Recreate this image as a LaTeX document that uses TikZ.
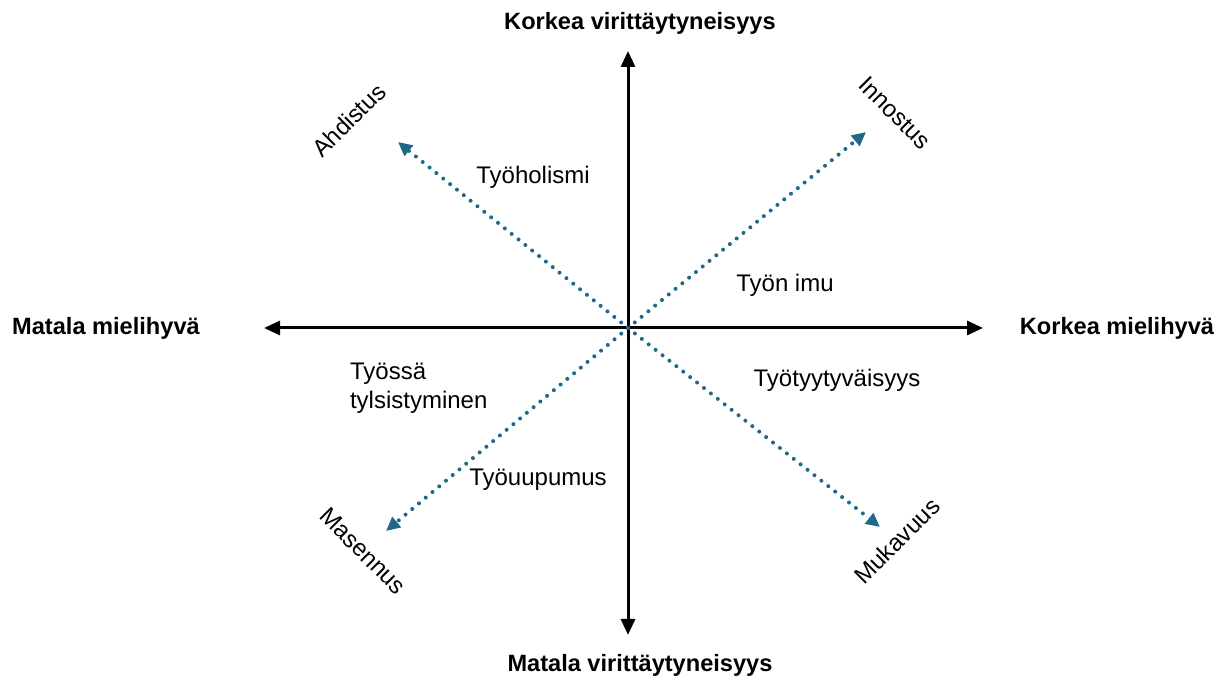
\documentclass[tikz,border=0pt]{standalone}
\usepackage{fontspec}
\setmainfont{Liberation Sans}
\usetikzlibrary{positioning,calc,arrows.meta}
\definecolor{dotblue}{RGB}{31,104,138}

\begin{document}
\begin{tikzpicture}[x=0.5pt,y=-0.5pt,
	axis/.style={line width=1.5pt,-{Triangle[length=8pt,width=7pt]}},
	trend/.style={dotblue,line width=2pt,line cap=round,dash pattern=on 0pt off 4.4pt,
		-{Triangle[length=7pt,width=6.5pt]}},
	axislabel/.style={font=\bfseries\fontsize{11.8}{14}\selectfont},
	mood/.style={font=\fontsize{12}{14}\selectfont},
	zone/.style={font=\fontsize{12}{14.5}\selectfont,align=left}]
		\useasboundingbox (0,0) rectangle (1223,684);
		
		\coordinate (o) at (628,328);
		\coordinate (up) at (628,51);
		\coordinate (down) at (628,635);
		\coordinate (left) at (264,328);
		\coordinate (right) at (983,328);
		\coordinate (ne) at (866,132);
		\coordinate (nw) at (398,142);
		\coordinate (sw) at (386,531);
		\coordinate (se) at (880,527);
		
		% axes
		\draw [axis] (o) -- (up);
		\draw [axis] (o) -- (down);
		\draw [axis] (o) -- (left);
		\draw [axis] (o) -- (right);
		
		% diagonals
		\draw [trend] (o) -- (ne);
		\draw [trend] (o) -- (nw);
		\draw [trend] (o) -- (sw);
		\draw [trend] (o) -- (se);
		
		\node[axislabel] (kv) at (640,23) {Korkea virittäytyneisyys};
		\node[axislabel] (mv) at (640,665) {Matala virittäytyneisyys};
		\node[axislabel] (mm) at (106,328) {Matala mielihyvä};
		\node[axislabel] (km) at (1117,328) {Korkea mielihyvä};
		
		\node[mood,rotate=45] (ahd) at (349,120) {Ahdistus};
		\node[mood,rotate=-45] (inn) at (895,113) {Innostus};
		\node[mood,rotate=-45] (mas) at (363,551) {Masennus};
		\node[mood,rotate=45] (muk) at (897,541) {Mukavuus};
		
		\node[zone] (hol) at (533,177) {Työholismi};
		\node[zone] (imu) at (785,285) {Työn imu};
		\node[zone] (tyy) at (837,380) {Työtyytyväisyys};
		\node[zone,anchor=west] (tyl) at (343,388) {Työssä\\tylsistyminen};
		\node[zone] (uup) at (538,480) {Työuupumus};
\end{tikzpicture}
\end{document}
